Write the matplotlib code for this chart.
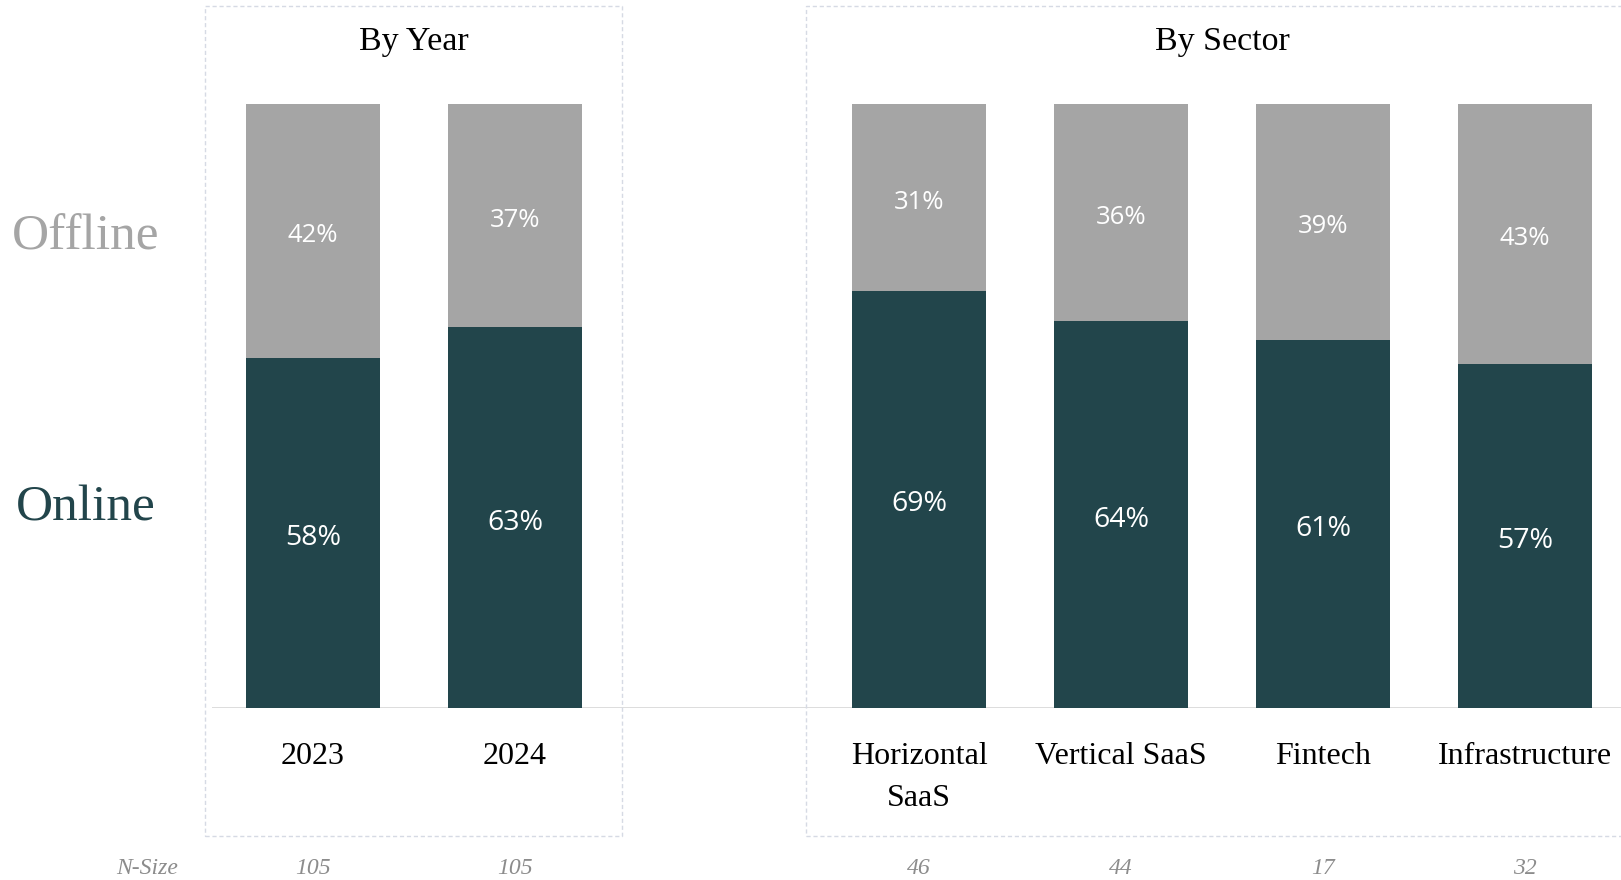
import matplotlib
matplotlib.use("Agg")
import matplotlib.pyplot as plt
from matplotlib.patches import Rectangle
from matplotlib.transforms import blended_transform_factory

# share of respondents, online vs offline
categories = ["2023", "2024", "Horizontal\nSaaS", "Vertical SaaS", "Fintech", "Infrastructure"]
online = [58, 63, 69, 64, 61, 57]
offline = [42, 37, 31, 36, 39, 43]
n_size = [105, 105, 46, 44, 17, 32]
groups = ["By Year", "By Sector"]

# bar slots: a two-slot gap between the year and sector groups
pos = [0, 1, 3, 4, 5, 6]
group_slots = [[0, 1], [3, 4, 5, 6]]

DARK = "#22454B"
GREY = "#A5A5A5"
SERIF = "Liberation Serif"
SANS = "Open Sans"

W, H = 1621, 880
fig = plt.figure(figsize=(W / 100, H / 100), dpi=100)
ax = fig.add_axes([212 / W, 172 / H, (W - 212) / W, 604 / H])

ax.bar(pos, online, width=0.663, color=DARK, zorder=3)
ax.bar(pos, offline, width=0.663, bottom=online, color=GREY, zorder=3)
ax.axhline(0, color="#D9D9D9", lw=2, zorder=2)

# small nudge so the digits sit visually centred in each segment
dy = 0.8
for x, on, off in zip(pos, online, offline):
    ax.text(x, on / 2 - dy, f"{on}%", ha="center", va="center", color="white",
            fontsize=20.5, family=SANS, zorder=4)
    ax.text(x, on + off / 2 - dy, f"{off}%", ha="center", va="center", color="white",
            fontsize=18.5, family=SANS, zorder=4)

ax.set_xlim(-0.5, 6.475)
ax.set_ylim(0, 100)
ax.axis("off")

tr = blended_transform_factory(ax.transData, ax.transAxes)
for x, lab, n in zip(pos, categories, n_size):
    ax.text(x, -0.057, lab, transform=tr, ha="center", va="top", fontsize=23,
            family=SERIF, color="black", linespacing=1.55, clip_on=False)
    ax.text(x, -0.266, str(n), transform=tr, ha="center", va="center",
            fontsize=17, family=SERIF, style="italic", color="#8C8C8C", clip_on=False)

fig.text(178 / W, 1 - 868 / H, "N-Size", ha="right", va="center", fontsize=17,
         family=SERIF, style="italic", color="#8C8C8C")

# group titles centred over their bars
for name, slots in zip(groups, group_slots):
    cx = (slots[0] + slots[-1]) / 2
    ax.text(cx, 1 + 62 / 604, name, transform=tr, ha="center", va="center",
            fontsize=24.5, family=SERIF, color="black", clip_on=False)

# dashed frames around each group
for x0, x1 in [(205, 622), (806, 1640)]:
    fig.add_artist(Rectangle((x0 / W, (H - 836) / H), (x1 - x0) / W, 830 / H,
                             transform=fig.transFigure, fill=False,
                             edgecolor="#D6DAE4", lw=1, ls=(0, (3, 2))))

fig.text(86 / W, 1 - 237 / H, "Offline", ha="center", va="center", fontsize=37,
         family=SERIF, color=GREY)
fig.text(86 / W, 1 - 508 / H, "Online", ha="center", va="center", fontsize=37,
         family=SERIF, color=DARK)

fig.savefig("out.png", dpi=100)
